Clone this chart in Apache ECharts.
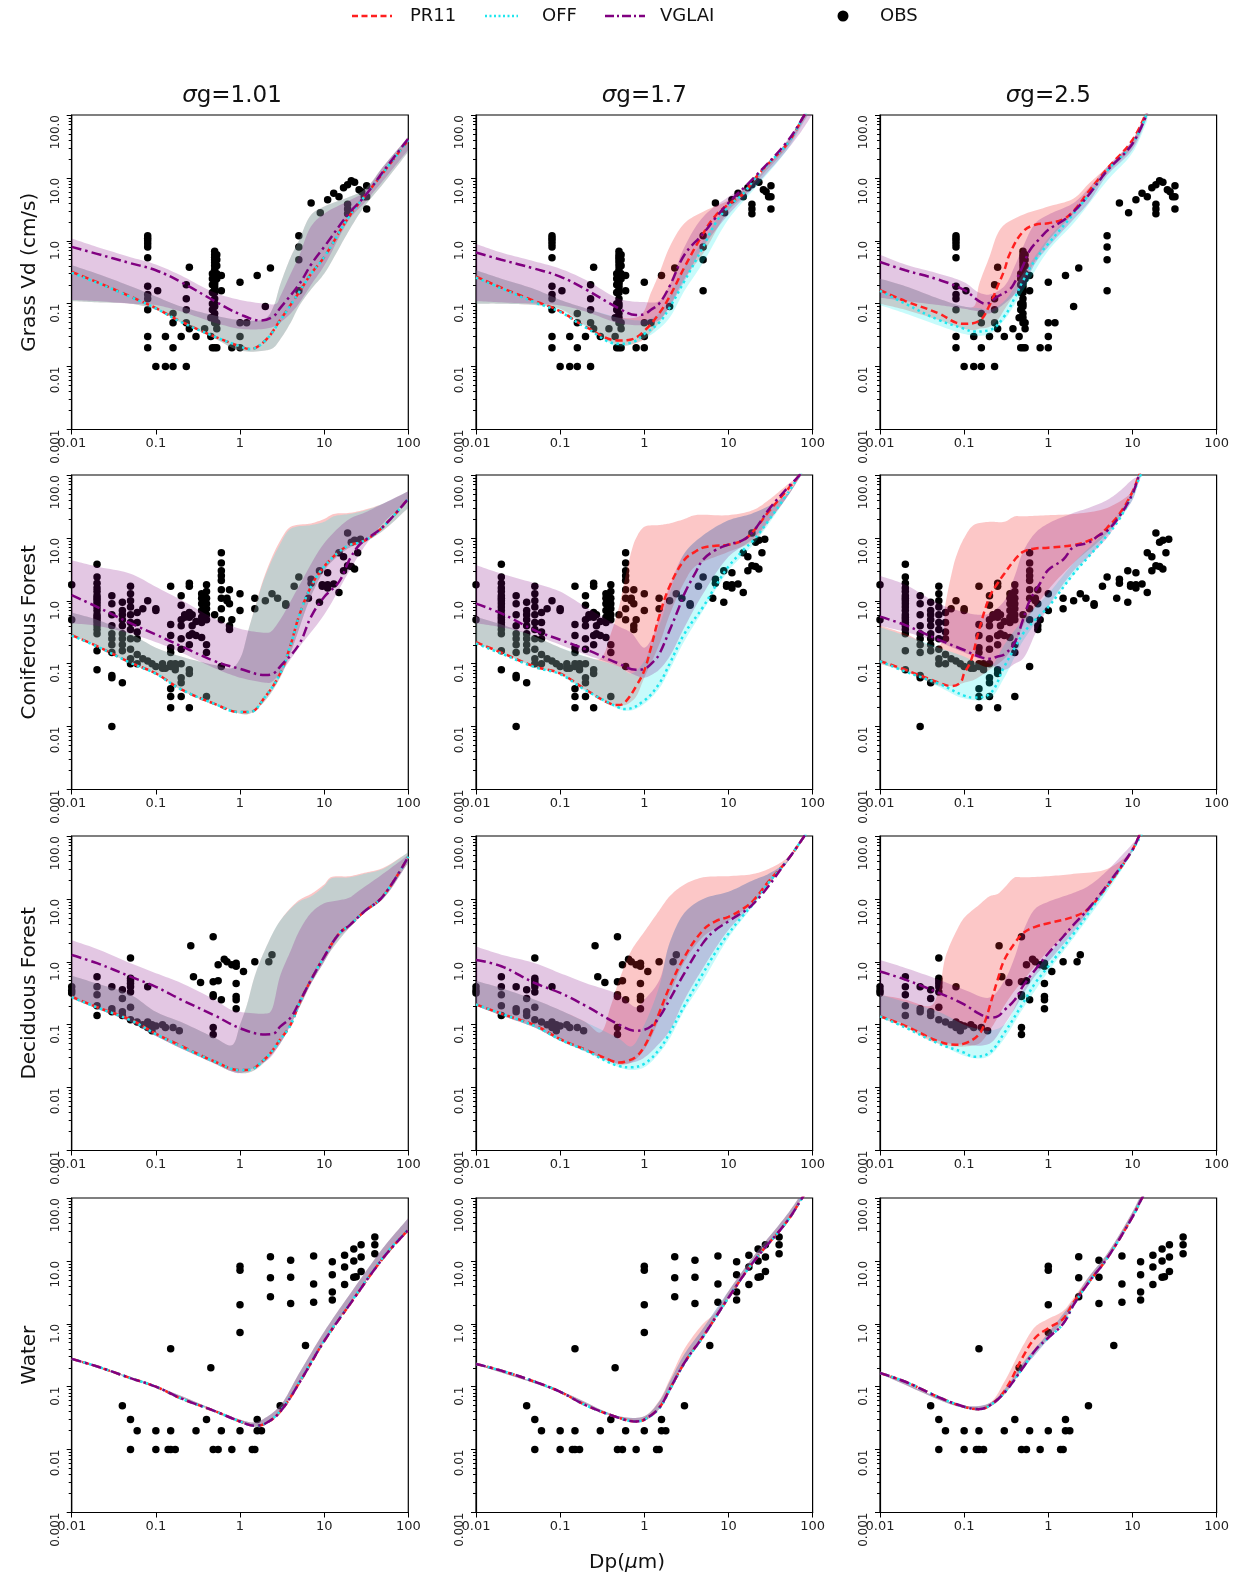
<!DOCTYPE html>
<html>
<head>
<meta charset="utf-8">
<title>Vd vs Dp</title>
<script src="https://cdn.jsdelivr.net/npm/echarts@6/dist/echarts.min.js"></script>
<style>
  html, body { margin: 0; padding: 0; background: #fff; }
  #main { width: 1239px; height: 1578px; }
</style>
</head>
<body>
<div id="main"></div>
<script>
// tick labels
var xTickLabels = ['0.01', '0.1', '1', '10', '100'];
var yTickLabels = ['0.001', '0.01', '0.1', '1.0', '10.0', '100.0'];
var colTitles = ['1.01', '1.7', '2.5'];
var rowNames = ['Grass Vd (cm/s)', 'Coniferous Forest', 'Deciduous Forest', 'Water'];

// ---- Grass, sigma g = 1.01 ----
var g1_pr = [[0.01,0.32],[0.02,0.22],[0.05,0.13],[0.1,0.085],[0.2,0.052],[0.5,0.03],[1,0.021],[1.3,0.019],[2,0.026],[3,0.055],[5,0.15],[7,0.3],[10,0.55],[20,2.5],[30,5],[50,12],[100,40]];
var g1_off = [[0.01,0.31],[0.02,0.215],[0.05,0.128],[0.1,0.084],[0.2,0.051],[0.5,0.03],[1,0.021],[1.3,0.019],[2,0.026],[3,0.054],[5,0.15],[7,0.3],[10,0.55],[20,2.5],[30,5],[50,12],[100,40]];
var g1_vg = [[0.01,0.8],[0.02,0.62],[0.05,0.44],[0.1,0.34],[0.2,0.22],[0.5,0.11],[1,0.068],[1.8,0.054],[2.5,0.063],[3,0.085],[5,0.2],[7,0.42],[10,0.8],[20,2.8],[30,5],[50,12.5],[100,42]];
var g1_prBand = [[0.01,0.11,0.41],[0.02,0.105,0.3],[0.05,0.1,0.19],[0.1,0.08,0.13],[0.2,0.05,0.09],[0.5,0.028,0.065],[1,0.018,0.055],[2,0.018,0.058],[2.5,0.02,0.09],[3,0.027,0.2],[4,0.05,0.55],[5,0.09,1.0],[7,0.17,2.6],[10,0.3,3.5],[20,1.5,5],[30,3.5,6.5],[50,8,15],[100,26,45]];
var g1_offBand = [[0.01,0.11,0.41],[0.02,0.105,0.3],[0.05,0.1,0.19],[0.1,0.08,0.13],[0.2,0.05,0.09],[0.5,0.028,0.065],[1,0.018,0.055],[2,0.018,0.058],[2.5,0.02,0.09],[3,0.027,0.2],[4,0.05,0.55],[5,0.09,1.0],[7,0.17,2.6],[10,0.3,3.5],[20,1.5,5],[30,3.5,6.5],[50,8,15],[100,26,45]];
var g1_vgBand = [[0.01,0.115,1.09],[0.02,0.11,0.8],[0.05,0.1,0.55],[0.1,0.095,0.42],[0.2,0.075,0.28],[0.5,0.05,0.15],[1,0.04,0.115],[2,0.04,0.1],[2.7,0.045,0.1],[3,0.05,0.13],[4,0.07,0.3],[5,0.1,0.56],[7,0.2,1.7],[10,0.4,2.7],[20,2.2,4.4],[30,4,6],[50,9,15],[100,28,45]];

// ---- Grass, sigma g = 1.7 ----
var g2_pr = [[0.01,0.27],[0.02,0.18],[0.05,0.11],[0.1,0.076],[0.2,0.043],[0.5,0.026],[0.7,0.027],[1,0.037],[1.5,0.07],[2,0.13],[3,0.38],[5,1.3],[7,2.5],[10,3.8],[15,5.6],[20,9.3],[30,17],[50,35],[80,100],[120,250]];
var g2_off = [[0.01,0.26],[0.02,0.175],[0.05,0.105],[0.1,0.074],[0.2,0.042],[0.5,0.023],[0.7,0.024],[1,0.033],[1.5,0.05],[2,0.087],[3,0.23],[5,0.8],[7,1.9],[10,3.5],[15,5.6],[20,9.3],[30,17],[50,35],[80,100],[120,250]];
var g2_vg = [[0.01,0.65],[0.02,0.5],[0.05,0.36],[0.1,0.27],[0.2,0.17],[0.5,0.084],[0.8,0.066],[1,0.068],[1.2,0.08],[1.5,0.1],[2,0.19],[3,0.6],[5,1.3],[7,2.3],[10,4],[20,10],[50,38],[80,100],[120,250]];
var g2_prBand = [[0.01,0.1,0.34],[0.02,0.1,0.25],[0.05,0.095,0.17],[0.1,0.083,0.115],[0.2,0.045,0.085],[0.5,0.022,0.06],[0.9,0.025,0.065],[1.2,0.035,0.15],[1.5,0.05,0.3],[2,0.09,0.8],[3,0.25,1.9],[5,0.63,2.9],[10,3,4.4],[15,5,6.4],[20,8,9],[50,31,38],[80,83,100],[120,200,250]];
var g2_offBand = [[0.01,0.1,0.34],[0.02,0.1,0.25],[0.05,0.095,0.17],[0.1,0.08,0.115],[0.2,0.043,0.085],[0.5,0.021,0.06],[1,0.028,0.055],[1.5,0.04,0.07],[2,0.06,0.13],[3,0.16,0.38],[5,0.45,1.0],[10,2.2,4],[20,6.5,9],[50,28,38],[80,80,100],[120,200,250]];
var g2_vgBand = [[0.01,0.11,0.89],[0.02,0.105,0.65],[0.05,0.1,0.47],[0.1,0.094,0.36],[0.2,0.075,0.24],[0.5,0.049,0.12],[1,0.046,0.106],[1.5,0.055,0.11],[2,0.09,0.2],[3,0.23,0.8],[5,0.8,2.4],[10,2.6,5],[20,7,9],[50,28,40],[80,65,100],[120,160,250]];

// ---- Grass, sigma g = 2.5 ----
var g3_pr = [[0.01,0.165],[0.02,0.11],[0.05,0.07],[0.08,0.05],[0.1,0.048],[0.15,0.053],[0.2,0.094],[0.25,0.19],[0.3,0.34],[0.35,0.63],[0.5,1.4],[0.7,1.8],[1,1.9],[1.5,2.2],[2,3],[3,6],[5,14],[10,40],[15,120]];
var g3_off = [[0.01,0.16],[0.02,0.1],[0.05,0.055],[0.1,0.04],[0.13,0.036],[0.2,0.038],[0.3,0.063],[0.4,0.125],[0.5,0.23],[0.7,0.5],[1,0.9],[2,2.7],[3,5.3],[5,13],[10,35],[15,110]];
var g3_vg = [[0.01,0.46],[0.02,0.34],[0.05,0.24],[0.1,0.165],[0.15,0.11],[0.18,0.1],[0.25,0.13],[0.35,0.17],[0.4,0.22],[0.5,0.4],[0.6,0.7],[0.8,1.1],[1,1.5],[1.5,2.1],[2,2.9],[3,5.3],[5,13],[10,35],[15,110]];
var g3_prBand = [[0.01,0.1,0.25],[0.02,0.08,0.19],[0.05,0.055,0.12],[0.1,0.04,0.09],[0.13,0.038,0.09],[0.15,0.04,0.2],[0.2,0.043,0.56],[0.25,0.055,1.3],[0.3,0.08,1.8],[0.5,0.23,2.6],[1,1.0,3.5],[2,2.7,4.7],[3,5,8],[5,12,15],[10,31,40],[15,100,130]];
var g3_offBand = [[0.01,0.095,0.25],[0.02,0.07,0.19],[0.05,0.045,0.12],[0.1,0.033,0.09],[0.15,0.031,0.085],[0.2,0.033,0.08],[0.3,0.055,0.11],[0.5,0.16,0.3],[1,0.7,1.1],[2,1.9,3],[5,9,13],[10,25,38],[15,80,120]];
var g3_vgBand = [[0.01,0.125,0.6],[0.02,0.11,0.42],[0.05,0.095,0.3],[0.1,0.083,0.22],[0.15,0.075,0.15],[0.2,0.07,0.14],[0.3,0.1,0.19],[0.4,0.14,0.4],[0.5,0.18,0.8],[0.7,0.44,1.9],[1,0.8,2.6],[2,2.2,4],[3,4,6.8],[5,11,15],[10,28,40],[15,90,130]];

// ---- Coniferous, sigma g = 1.01 ----
var c1_pr = [[0.01,0.285],[0.02,0.19],[0.05,0.104],[0.1,0.07],[0.2,0.039],[0.5,0.023],[1,0.017],[1.3,0.017],[2,0.03],[3,0.07],[4,0.2],[5,0.56],[7,1.7],[10,3.5],[15,6],[20,7.7],[30,9],[50,15],[100,42]];
var c1_off = [[0.01,0.28],[0.02,0.188],[0.05,0.103],[0.1,0.069],[0.2,0.039],[0.5,0.023],[1,0.017],[1.3,0.017],[2,0.03],[3,0.07],[4,0.2],[5,0.56],[7,1.7],[10,3.5],[15,6],[20,7.7],[30,9],[50,15],[100,42]];
var c1_vg = [[0.01,1.23],[0.02,0.8],[0.05,0.44],[0.1,0.29],[0.2,0.19],[0.5,0.11],[1,0.083],[2,0.066],[2.5,0.07],[3,0.09],[5,0.2],[7,0.56],[10,1.15],[15,2],[20,4.5],[25,7.2],[30,9],[50,15],[100,42]];
var c1_prBand = [[0.01,0.28,0.65],[0.02,0.19,0.5],[0.05,0.1,0.3],[0.1,0.068,0.18],[0.2,0.038,0.13],[0.5,0.022,0.095],[0.8,0.018,0.085],[1,0.016,0.12],[1.3,0.016,0.4],[2,0.026,2.7],[3,0.06,9],[4,0.15,15],[7,1.2,17],[10,3,20],[13,4.5,24],[20,7,25],[30,8.5,28],[50,13,35],[100,30,55]];
var c1_offBand = [[0.01,0.28,0.65],[0.02,0.19,0.5],[0.05,0.1,0.3],[0.1,0.068,0.18],[0.2,0.038,0.13],[0.5,0.022,0.095],[0.8,0.018,0.085],[1,0.016,0.12],[1.3,0.016,0.4],[2,0.026,2.5],[3,0.06,8],[4,0.15,14],[7,1.2,16],[10,3,18],[13,4.5,22],[20,7,24],[30,8.5,27],[50,13,35],[100,30,55]];
var c1_vgBand = [[0.01,0.44,4.4],[0.02,0.4,3.5],[0.05,0.3,2.7],[0.1,0.22,1.67],[0.2,0.15,1.03],[0.5,0.085,0.52],[1,0.06,0.36],[2,0.05,0.31],[2.3,0.05,0.32],[3,0.07,0.5],[5,0.18,1.7],[10,0.6,8.2],[20,3,20],[30,7.2,25],[50,17,35],[100,40,55]];

// ---- Coniferous, sigma g = 1.7 ----
var c2_pr = [[0.01,0.22],[0.02,0.15],[0.05,0.09],[0.1,0.07],[0.2,0.039],[0.4,0.023],[0.5,0.022],[0.6,0.025],[0.8,0.044],[1,0.078],[1.2,0.18],[1.5,0.56],[2,1.7],[3,4.5],[4,6],[5,7],[7,7.5],[10,7.8],[15,9.2],[20,13],[30,26],[50,58],[70,100],[100,200]];
var c2_off = [[0.01,0.21],[0.02,0.145],[0.05,0.088],[0.1,0.068],[0.2,0.038],[0.5,0.02],[0.6,0.019],[1,0.026],[1.5,0.048],[2,0.1],[3,0.3],[5,0.8],[7,1.7],[10,3.5],[15,6.4],[20,9.3],[30,19],[50,50],[70,100],[100,200]];
var c2_vg = [[0.01,0.9],[0.02,0.63],[0.05,0.34],[0.1,0.24],[0.2,0.17],[0.5,0.1],[0.8,0.08],[1,0.083],[1.3,0.11],[1.5,0.14],[2,0.34],[2.5,0.7],[3,1.3],[4,2.7],[5,4.5],[7,6.4],[10,7.8],[15,9.3],[20,13],[30,28],[50,62],[70,100],[100,200]];
var c2_prBand = [[0.01,0.21,0.56],[0.02,0.15,0.42],[0.05,0.09,0.27],[0.1,0.068,0.18],[0.2,0.038,0.13],[0.3,0.028,0.12],[0.4,0.023,0.3],[0.5,0.022,0.8],[0.6,0.022,2.5],[0.7,0.025,6],[0.8,0.03,10],[1,0.06,15],[1.5,0.2,16],[2,0.6,17],[3,2,20],[4,3.5,23],[10,6,23],[20,9,28],[30,18,40],[50,45,70],[70,90,100],[100,180,200]];
var c2_offBand = [[0.01,0.21,0.56],[0.02,0.145,0.42],[0.05,0.088,0.27],[0.1,0.066,0.18],[0.2,0.036,0.13],[0.5,0.019,0.09],[0.7,0.018,0.07],[1,0.023,0.11],[1.5,0.04,0.4],[2,0.08,1.3],[3,0.23,5.7],[5,0.7,11],[10,3,19],[20,8,25],[50,45,50],[70,90,100],[100,180,200]];
var c2_vgBand = [[0.01,0.44,3.7],[0.02,0.38,2.7],[0.05,0.28,1.9],[0.1,0.2,1.4],[0.2,0.14,0.8],[0.5,0.09,0.39],[0.7,0.07,0.31],[1,0.06,0.18],[1.3,0.07,0.3],[1.5,0.08,0.56],[2,0.13,1.7],[3,0.38,5.7],[5,1.3,11],[10,5,19],[20,10,25],[50,45,50],[70,90,100],[100,180,200]];

// ---- Coniferous, sigma g = 2.5 ----
var c3_pr = [[0.01,0.11],[0.02,0.08],[0.05,0.05],[0.07,0.044],[0.09,0.05],[0.1,0.07],[0.12,0.11],[0.15,0.34],[0.2,1.15],[0.25,1.9],[0.3,2.7],[0.4,4.5],[0.5,6],[0.7,6.8],[1,7],[2,7.7],[3,9],[4,11],[5,14.5],[7,24],[10,54],[12,100],[15,200]];
var c3_off = [[0.01,0.11],[0.02,0.075],[0.05,0.048],[0.1,0.031],[0.13,0.029],[0.2,0.033],[0.3,0.09],[0.4,0.18],[0.5,0.3],[0.7,0.5],[1,0.8],[2,2.7],[3,5],[5,11],[7,20],[10,50],[12.5,100],[15,170]];
var c3_vg = [[0.01,0.56],[0.02,0.41],[0.05,0.24],[0.1,0.165],[0.15,0.13],[0.2,0.12],[0.25,0.13],[0.3,0.14],[0.4,0.22],[0.5,0.5],[0.6,1.0],[0.8,1.9],[1,3.1],[1.5,4.5],[2,7.2],[3,8.4],[4,11],[5,13],[7,22],[10,50],[12,100],[15,200]];
var c3_prBand = [[0.01,0.1,0.4],[0.02,0.075,0.3],[0.05,0.045,0.19],[0.06,0.045,0.9],[0.07,0.044,2.5],[0.08,0.045,5],[0.1,0.05,10],[0.13,0.055,16],[0.2,0.08,18],[0.3,0.12,18],[0.4,0.2,22],[0.5,0.4,22],[1,1.5,23],[2,4,24],[5,12,30],[10,48,55],[12,90,100],[15,180,200]];
var c3_offBand = [[0.01,0.1,0.38],[0.02,0.075,0.28],[0.05,0.043,0.18],[0.1,0.028,0.13],[0.2,0.028,0.09],[0.3,0.06,0.2],[0.5,0.23,0.5],[1,0.8,1.3],[2,2.6,4],[5,11,14],[10,40,55],[12,80,100],[15,160,200]];
var c3_vgBand = [[0.01,0.4,2.5],[0.02,0.32,1.8],[0.05,0.22,0.9],[0.1,0.15,0.66],[0.15,0.12,0.6],[0.2,0.1,0.63],[0.3,0.08,1.0],[0.4,0.1,2.5],[0.5,0.12,6],[0.7,0.3,12],[1,0.8,17],[2,3,25],[3,5,30],[5,10,40],[7,20,55],[10,40,85],[12,80,100],[15,160,200]];

// ---- Deciduous, sigma g = 1.01 ----
var d1_pr = [[0.01,0.28],[0.02,0.19],[0.05,0.12],[0.1,0.072],[0.2,0.046],[0.5,0.026],[1,0.019],[1.2,0.019],[2,0.029],[3,0.058],[4,0.1],[5,0.21],[7,0.52],[10,1.2],[15,2.8],[20,3.8],[30,6.3],[50,11],[100,47]];
var d1_off = [[0.01,0.275],[0.02,0.188],[0.05,0.118],[0.1,0.071],[0.2,0.045],[0.5,0.026],[1,0.019],[1.2,0.019],[2,0.029],[3,0.058],[4,0.1],[5,0.21],[7,0.52],[10,1.2],[15,2.8],[20,3.8],[30,6.3],[50,11],[100,47]];
var d1_vg = [[0.01,1.28],[0.02,0.95],[0.05,0.58],[0.1,0.4],[0.2,0.25],[0.5,0.14],[1,0.088],[2,0.07],[2.5,0.072],[3,0.093],[4,0.13],[5,0.22],[7,0.52],[10,1.2],[15,2.8],[20,3.8],[30,6.3],[50,11],[100,47]];
var d1_prBand = [[0.01,0.26,0.6],[0.02,0.18,0.45],[0.05,0.11,0.3],[0.1,0.066,0.16],[0.2,0.042,0.11],[0.5,0.024,0.062],[0.8,0.018,0.047],[1,0.017,0.1],[1.2,0.017,0.2],[1.5,0.019,0.6],[2,0.026,1.6],[3,0.05,4.5],[5,0.18,9.5],[7,0.45,12],[10,1,17],[12,1.5,22],[20,3.5,23],[30,6,26],[50,10,31],[100,38,55]];
var d1_offBand = [[0.01,0.26,0.6],[0.02,0.18,0.45],[0.05,0.11,0.3],[0.1,0.066,0.16],[0.2,0.042,0.11],[0.5,0.024,0.062],[0.8,0.018,0.047],[1,0.017,0.1],[1.2,0.017,0.2],[1.5,0.019,0.6],[2,0.026,1.6],[3,0.05,4.5],[5,0.18,9],[7,0.45,11],[10,1,16],[12,1.5,21],[20,3.5,22],[30,6,25],[50,10,30],[100,38,55]];
var d1_vgBand = [[0.01,0.26,2.2],[0.02,0.18,1.6],[0.05,0.11,0.95],[0.1,0.066,0.66],[0.2,0.042,0.46],[0.5,0.024,0.25],[0.8,0.018,0.17],[1,0.017,0.16],[2,0.026,0.15],[2.3,0.03,0.16],[3,0.05,0.6],[4,0.1,1.5],[5,0.18,3],[7,0.45,6],[10,1,8.5],[15,2.5,9.5],[20,3.5,10.5],[25,5,13],[50,10,25],[100,38,50]];

// ---- Deciduous, sigma g = 1.7 ----
var d2_pr = [[0.01,0.21],[0.02,0.15],[0.05,0.098],[0.1,0.059],[0.2,0.04],[0.4,0.027],[0.5,0.025],[0.6,0.026],[0.8,0.031],[1,0.045],[1.2,0.074],[1.5,0.153],[2,0.4],[3,1.2],[5,3.2],[7,4.4],[10,5.2],[15,7],[20,9.6],[30,19],[50,41],[80,100],[120,220]];
var d2_off = [[0.01,0.21],[0.02,0.15],[0.05,0.095],[0.1,0.058],[0.2,0.039],[0.5,0.022],[0.7,0.021],[1,0.024],[1.5,0.04],[2,0.074],[3,0.2],[5,0.66],[7,1.4],[10,2.8],[15,5.5],[20,8.5],[30,18],[50,41],[80,100],[120,220]];
var d2_vg = [[0.01,1.07],[0.02,0.85],[0.05,0.46],[0.1,0.32],[0.2,0.2],[0.5,0.1],[0.8,0.08],[1,0.083],[1.2,0.094],[1.5,0.13],[2,0.25],[3,0.66],[5,2],[7,3.2],[10,4.4],[20,8.5],[50,41],[80,100],[120,220]];
var d2_prBand = [[0.01,0.2,0.5],[0.02,0.14,0.38],[0.05,0.09,0.25],[0.1,0.056,0.17],[0.2,0.038,0.11],[0.3,0.03,0.075],[0.4,0.026,0.2],[0.5,0.023,0.5],[0.7,0.025,1.5],[1,0.04,3],[1.5,0.12,6.5],[2,0.3,11],[3,1,17],[5,2.5,22],[10,4.5,23],[20,9,25],[30,17,30],[50,38,45],[80,95,100],[120,200,220]];
var d2_offBand = [[0.01,0.2,0.5],[0.02,0.14,0.38],[0.05,0.09,0.25],[0.1,0.055,0.17],[0.2,0.037,0.11],[0.5,0.021,0.06],[0.7,0.019,0.045],[1,0.021,0.1],[1.5,0.035,0.4],[2,0.06,2],[3,0.17,6],[5,0.5,10],[10,2.4,13],[20,8,20],[30,17,25],[50,38,40],[80,95,100],[120,200,220]];
var d2_vgBand = [[0.01,0.2,1.75],[0.02,0.14,1.3],[0.05,0.09,0.95],[0.1,0.056,0.66],[0.2,0.038,0.46],[0.5,0.024,0.3],[0.8,0.026,0.19],[1,0.03,0.25],[1.5,0.05,0.5],[2,0.08,2],[3,0.25,6],[5,0.8,10],[10,3.2,13],[20,8.5,20],[30,17,25],[50,38,40],[80,95,100],[120,200,220]];

// ---- Deciduous, sigma g = 2.5 ----
var d3_pr = [[0.01,0.136],[0.02,0.096],[0.05,0.054],[0.08,0.048],[0.1,0.05],[0.15,0.07],[0.18,0.12],[0.2,0.19],[0.25,0.52],[0.3,1.07],[0.4,1.98],[0.5,2.85],[0.7,3.6],[1,4.1],[2,5.2],[3,7],[5,15.8],[7,29],[10,60],[12,100],[15,180]];
var d3_off = [[0.01,0.136],[0.02,0.09],[0.05,0.05],[0.1,0.036],[0.13,0.031],[0.2,0.036],[0.3,0.074],[0.5,0.22],[0.7,0.46],[1,0.84],[2,2.8],[3,5.9],[5,15.8],[7,29],[10,60],[12.5,100],[15,160]];
var d3_vg = [[0.01,0.7],[0.02,0.52],[0.05,0.32],[0.1,0.21],[0.15,0.15],[0.2,0.13],[0.25,0.136],[0.3,0.17],[0.4,0.25],[0.5,0.41],[0.7,0.75],[1,1.37],[1.5,2.5],[2,3.9],[3,7],[5,16.6],[10,60],[12,100],[15,180]];
var d3_prBand = [[0.01,0.13,0.3],[0.02,0.09,0.25],[0.04,0.055,0.2],[0.05,0.05,0.35],[0.06,0.047,1.2],[0.08,0.045,3],[0.1,0.045,5],[0.15,0.05,8],[0.2,0.08,11],[0.25,0.13,12],[0.3,0.2,15],[0.4,0.35,22],[0.5,0.5,22],[1,1.5,23],[2,3.5,25],[5,15,30],[10,58,60],[12,95,100],[15,170,180]];
var d3_offBand = [[0.01,0.13,0.3],[0.02,0.09,0.23],[0.05,0.05,0.16],[0.1,0.032,0.1],[0.15,0.029,0.085],[0.2,0.032,0.08],[0.3,0.06,0.1],[0.5,0.18,0.35],[1,0.7,1.3],[2,2.4,3.5],[5,13,17],[10,55,65],[12,90,100],[15,150,180]];
var d3_vgBand = [[0.01,0.14,1.07],[0.02,0.1,0.8],[0.05,0.055,0.52],[0.1,0.048,0.36],[0.2,0.05,0.27],[0.3,0.1,0.5],[0.4,0.18,1.2],[0.5,0.3,3],[0.7,0.6,7],[1,1,9],[2,3,12.5],[3,6,16],[5,15,28],[7,28,45],[10,58,75],[12,95,100],[15,170,180]];

// ---- Water, sigma g = 1.01 ----
var w1_pr = [[0.01,0.277],[0.02,0.21],[0.05,0.137],[0.1,0.1],[0.2,0.065],[0.5,0.041],[1,0.028],[1.5,0.024],[2,0.026],[3,0.04],[5,0.112],[10,0.53],[20,2.0],[50,11],[100,31]];
var w1_off = [[0.01,0.277],[0.02,0.21],[0.05,0.137],[0.1,0.1],[0.2,0.065],[0.5,0.041],[1,0.028],[1.5,0.024],[2,0.026],[3,0.041],[5,0.115],[10,0.54],[20,2.05],[50,11.3],[100,32]];
var w1_vg = [[0.01,0.277],[0.02,0.21],[0.05,0.137],[0.1,0.1],[0.2,0.065],[0.5,0.041],[1,0.028],[1.5,0.024],[2,0.026],[3,0.04],[5,0.112],[10,0.53],[20,2.0],[50,11],[100,31]];
var w1_prBand = [[0.01,0.27,0.285],[0.1,0.098,0.103],[1,0.027,0.03],[1.5,0.023,0.027],[2,0.025,0.032],[3,0.039,0.05],[5,0.11,0.16],[10,0.52,0.75],[20,2,2.9],[50,11,16],[100,31,48]];
var w1_offBand = [[0.01,0.27,0.285],[0.1,0.098,0.103],[1,0.027,0.03],[1.5,0.023,0.027],[2,0.025,0.032],[3,0.039,0.05],[5,0.11,0.16],[10,0.52,0.75],[20,2,2.9],[50,11,16],[100,31,48]];
var w1_vgBand = [[0.01,0.27,0.285],[0.1,0.098,0.103],[1,0.027,0.03],[1.5,0.023,0.027],[2,0.025,0.032],[3,0.039,0.05],[5,0.11,0.16],[10,0.52,0.75],[20,2,2.9],[50,11,16],[100,31,48]];

// ---- Water, sigma g = 1.7 ----
var w2_pr = [[0.01,0.23],[0.02,0.18],[0.05,0.12],[0.1,0.083],[0.2,0.051],[0.5,0.032],[0.8,0.028],[1,0.03],[1.5,0.046],[2,0.09],[3,0.24],[5,0.63],[10,2.6],[20,9.8],[50,43],[75,100],[100,180]];
var w2_off = [[0.01,0.23],[0.02,0.18],[0.05,0.12],[0.1,0.083],[0.2,0.051],[0.5,0.032],[0.8,0.028],[1,0.03],[1.5,0.045],[2,0.088],[3,0.235],[5,0.62],[10,2.6],[20,9.8],[50,43],[75,100],[100,180]];
var w2_vg = [[0.01,0.23],[0.02,0.18],[0.05,0.12],[0.1,0.083],[0.2,0.051],[0.5,0.032],[0.8,0.028],[1,0.03],[1.5,0.046],[2,0.09],[3,0.24],[5,0.63],[10,2.6],[20,9.8],[50,43],[75,100],[100,180]];
var w2_prBand = [[0.01,0.225,0.235],[0.1,0.081,0.086],[0.5,0.031,0.034],[1,0.029,0.034],[1.5,0.044,0.06],[2,0.087,0.13],[3,0.23,0.4],[5,0.6,1.0],[7,1.3,1.5],[10,2.5,3.3],[20,9.5,12],[50,42,55],[75,98,120],[100,170,200]];
var w2_offBand = [[0.01,0.225,0.235],[0.1,0.081,0.086],[0.5,0.031,0.034],[1,0.029,0.034],[1.5,0.044,0.058],[2,0.087,0.12],[3,0.23,0.33],[5,0.6,0.85],[10,2.5,3.3],[20,9.5,12],[50,42,55],[75,98,120],[100,170,200]];
var w2_vgBand = [[0.01,0.225,0.235],[0.1,0.081,0.086],[0.5,0.031,0.034],[1,0.029,0.034],[1.5,0.044,0.058],[2,0.087,0.12],[3,0.23,0.33],[5,0.6,0.85],[10,2.5,3.3],[20,9.5,12],[50,42,55],[75,98,120],[100,170,200]];

// ---- Water, sigma g = 2.5 ----
var w3_pr = [[0.01,0.165],[0.02,0.12],[0.05,0.068],[0.1,0.048],[0.15,0.044],[0.2,0.05],[0.3,0.085],[0.5,0.3],[0.7,0.6],[1,0.85],[1.5,1.2],[2,2.2],[3,4.5],[5,11],[10,50],[13,100],[16,160]];
var w3_off = [[0.01,0.165],[0.02,0.12],[0.05,0.068],[0.1,0.048],[0.15,0.044],[0.2,0.05],[0.3,0.08],[0.5,0.2],[0.7,0.38],[1,0.6],[1.5,1.0],[2,2],[3,4.5],[5,11],[10,50],[13,100],[16,160]];
var w3_vg = [[0.01,0.165],[0.02,0.12],[0.05,0.068],[0.1,0.048],[0.15,0.044],[0.2,0.05],[0.3,0.08],[0.5,0.2],[0.7,0.38],[1,0.6],[1.5,1.0],[2,2],[3,4.5],[5,11],[10,50],[13,100],[16,160]];
var w3_prBand = [[0.01,0.16,0.17],[0.1,0.046,0.05],[0.2,0.048,0.055],[0.3,0.075,0.12],[0.5,0.2,0.45],[0.7,0.35,0.9],[1,0.6,1.2],[1.5,1.0,1.6],[2,2,2.6],[3,4.3,5.5],[5,10.5,13],[10,48,60],[13,95,120],[16,150,190]];
var w3_offBand = [[0.01,0.16,0.17],[0.1,0.046,0.05],[0.2,0.048,0.055],[0.3,0.075,0.09],[0.5,0.19,0.24],[1,0.57,0.72],[2,1.9,2.4],[3,4.3,5.5],[5,10.5,13],[10,48,60],[13,95,120],[16,150,190]];
var w3_vgBand = [[0.01,0.16,0.17],[0.1,0.046,0.05],[0.2,0.048,0.055],[0.3,0.075,0.09],[0.5,0.19,0.24],[1,0.57,0.72],[2,1.9,2.4],[3,4.3,5.5],[5,10.5,13],[10,48,60],[13,95,120],[16,150,190]];

// ---- observations: [Dp, [Vd values at that Dp]] ----
var grassObs = [
  [0.08,[1.2,1.1,1.0,0.9,0.8,0.54,0.19,0.14,0.12,0.08,0.03,0.02]],
  [0.1,[0.01]],[0.105,[0.16]],[0.13,[0.01,0.03]],[0.16,[0.07,0.05,0.02,0.01]],
  [0.2,[0.03]],[0.23,[0.2,0.12,0.08,0.05,0.01]],[0.25,[0.38,0.04]],[0.3,[0.03]],
  [0.38,[0.04]],[0.45,[0.06,0.03]],[0.47,[0.3,0.25,0.2,0.15,0.1,0.08,0.02]],
  [0.5,[0.68,0.6,0.55,0.5,0.45,0.4,0.35,0.3,0.27,0.25,0.22,0.2,0.18,0.15,0.12,0.1,0.09,0.07,0.06,0.05,0.02]],
  [0.53,[0.6,0.5,0.4,0.3,0.25,0.05,0.04,0.02]],[0.6,[0.28,0.16]],[0.8,[0.02]],
  [1.0,[0.22,0.05,0.03,0.02]],[1.2,[0.05]],[1.6,[0.28]],[2,[0.09]],[2.3,[0.37]],
  [5,[1.2,0.8,0.5,0.16]],[7,[4]],[9,[2.8]],[11,[4.5]],[13,[5.7]],[15,[5]],[17,[7]],
  [19,[7.8,3.8,3.2,2.7]],[21,[9]],[23,[8.5]],[26,[6.5]],[28,[6]],[30,[5]],[32,[7.5,5,3.2]]
];
var coniferObs = [
  [0.01,[1.8,0.5]],
  [0.02,[3.8,2.4,1.9,1.6,1.4,1.2,1.1,1.0,0.9,0.8,0.7,0.6,0.55,0.5,0.45,0.4,0.35,0.3,0.16,0.08]],
  [0.03,[1.2,0.9,0.6,0.4,0.3,0.25,0.2,0.15,0.065,0.06,0.01]],
  [0.04,[0.95,0.7,0.6,0.5,0.4,0.3,0.25,0.2,0.16,0.05]],
  [0.05,[1.7,1.3,1.0,0.8,0.6,0.45,0.35,0.25,0.17,0.12,0.1]],
  [0.06,[0.65,0.45,0.32,0.25,0.14,0.1]],[0.07,[0.75,0.12]],[0.08,[1.0,0.11]],[0.09,[0.1]],
  [0.1,[0.75,0.7,0.09]],[0.12,[0.1,0.085]],[0.13,[0.085]],
  [0.15,[1.7,0.42,0.28,0.18,0.15,0.1,0.09,0.04,0.03,0.02]],[0.17,[0.1,0.09,0.08]],
  [0.2,[1.2,0.85,0.5,0.4,0.25,0.17,0.1,0.06,0.05,0.03]],[0.22,[0.6,0.55]],
  [0.25,[1.9,1.7,0.65,0.55,0.28,0.2,0.08,0.07,0.02]],[0.27,[0.6,0.4,0.3]],[0.3,[0.47,0.28]],
  [0.35,[1.3,1.1,0.9,0.7,0.55,0.45,0.26]],[0.4,[1.8,1.4,1.1,0.9,0.75,0.6,0.5,0.2,0.15,0.03]],
  [0.5,[0.6]],[0.6,[5.8,4.0,3.0,2.5,2.1,1.5,1.1,0.75,0.5,0.09]],[0.7,[1.1,1.0]],
  [0.75,[1.5,0.9,0.4,0.35]],[0.8,[0.5]],[1.0,[1.3,0.7]],[1.5,[1.1,0.75]],[2.0,[1.0]],
  [2.4,[1.3]],[2.8,[1.1]],[3.5,[0.9,0.85]],[4.4,[1.7]],[5.0,[2.4]],[6.5,[1.1]],[7,[2.2,1.9]],
  [8.8,[3.0,0.95]],[9.5,[1.8,1.7]],[11,[2.8,1.8,1.6]],[13,[1.85]],[15,[5.8,1.35]],
  [17,[5.0,3.0]],[19,[12,3.6]],[21,[8.5,3.5]],[23,[9.2,3.2]],[25,[5.8]],[27,[9.5]]
];
var decidObs = [
  [0.01,[0.4,0.35,0.32]],[0.02,[0.58,0.4,0.3,0.2,0.14]],[0.03,[0.4,0.18,0.16]],
  [0.04,[0.36,0.26,0.16,0.14]],[0.05,[1.15,0.55,0.5,0.45,0.4,0.33,0.19,0.12]],
  [0.06,[0.11]],[0.07,[0.1]],[0.08,[0.4,0.11,0.1,0.09]],[0.09,[0.1,0.08]],[0.1,[0.095]],
  [0.12,[0.1]],[0.13,[0.09]],[0.16,[0.09]],[0.19,[0.08]],[0.26,[1.8]],[0.28,[0.58]],
  [0.34,[0.47]],[0.48,[2.5,0.48,0.3,0.28,0.09,0.07]],[0.55,[0.9,0.5]],[0.6,[0.25]],
  [0.65,[1.1]],[0.7,[1.0]],[0.8,[0.9]],[0.9,[0.95,0.85,0.45,0.28,0.25,0.18]],
  [1.1,[0.7]],[1.5,[1.0]],[2.2,[1.0]],[2.4,[1.3]]
];
var waterObs = [
  [0.04,[0.05]],[0.05,[0.03,0.01]],[0.06,[0.02]],[0.1,[0.02,0.01]],[0.14,[0.01]],
  [0.15,[0.4,0.02,0.01]],[0.17,[0.01]],[0.3,[0.02]],[0.4,[0.03]],[0.45,[0.2]],
  [0.48,[0.01]],[0.55,[0.01]],[0.6,[0.02]],[0.8,[0.01]],[1.0,[8.2,7.1,2.0,0.73,0.02]],
  [1.4,[0.01]],[1.5,[0.01]],[1.6,[0.03,0.02]],[1.8,[0.02]],[2.3,[11.6,5.4,2.7]],[3,[0.05]],
  [4,[10.2,5.5,2.1]],[6,[0.45]],[7.5,[12,4.3,2.2]],[12.5,[9.7,6,3.2,2.4]],
  [17.5,[12.3,8,4.2]],[22.5,[15.5,10,5.5]],[24,[5.6]],[27.5,[18,11.5,6.8]],[40,[24,18,13]]
];

var panels = [
  [g1_pr, g1_off, g1_vg, g1_prBand, g1_offBand, g1_vgBand, grassObs],
  [g2_pr, g2_off, g2_vg, g2_prBand, g2_offBand, g2_vgBand, grassObs],
  [g3_pr, g3_off, g3_vg, g3_prBand, g3_offBand, g3_vgBand, grassObs],
  [c1_pr, c1_off, c1_vg, c1_prBand, c1_offBand, c1_vgBand, coniferObs],
  [c2_pr, c2_off, c2_vg, c2_prBand, c2_offBand, c2_vgBand, coniferObs],
  [c3_pr, c3_off, c3_vg, c3_prBand, c3_offBand, c3_vgBand, coniferObs],
  [d1_pr, d1_off, d1_vg, d1_prBand, d1_offBand, d1_vgBand, decidObs],
  [d2_pr, d2_off, d2_vg, d2_prBand, d2_offBand, d2_vgBand, decidObs],
  [d3_pr, d3_off, d3_vg, d3_prBand, d3_offBand, d3_vgBand, decidObs],
  [w1_pr, w1_off, w1_vg, w1_prBand, w1_offBand, w1_vgBand, waterObs],
  [w2_pr, w2_off, w2_vg, w2_prBand, w2_offBand, w2_vgBand, waterObs],
  [w3_pr, w3_off, w3_vg, w3_prBand, w3_offBand, w3_vgBand, waterObs]
];

var FONT = 'DejaVu Sans';
var RED = '#ff1f1f', CYAN = '#1ee6ee', PURPLE = '#800080';
var lefts = [71.7, 476, 880], tops = [115, 475, 836, 1198];
var W = 336.6, H = 314.5;

var myChart = echarts.init(document.getElementById('main'));

function expOf(v) { return Math.round(Math.log(v) / Math.LN10); }

// centripetal Catmull-Rom through pixel points, so band edges are smooth curves
function smoothEdge(pts, n) {
  if (pts.length < 3) return pts;
  var out = [];
  function ext(a, b) { return [2 * a[0] - b[0], 2 * a[1] - b[1]]; }
  function knot(t, a, b) {
    var dx = b[0] - a[0], dy = b[1] - a[1];
    return t + Math.pow(Math.sqrt(dx * dx + dy * dy) + 1e-4, 0.5);
  }
  function mix(a, b, ta, tb, t) {
    var w = (t - ta) / (tb - ta);
    return [a[0] + (b[0] - a[0]) * w, a[1] + (b[1] - a[1]) * w];
  }
  for (var i = 0; i < pts.length - 1; i++) {
    var p0 = i > 0 ? pts[i - 1] : ext(pts[0], pts[1]);
    var p1 = pts[i], p2 = pts[i + 1];
    var p3 = i + 2 < pts.length ? pts[i + 2] : ext(pts[i + 1], pts[i]);
    var t0 = 0, t1 = knot(t0, p0, p1), t2 = knot(t1, p1, p2), t3 = knot(t2, p2, p3);
    for (var k = 0; k < n; k++) {
      var t = t1 + (t2 - t1) * k / n;
      var a1 = mix(p0, p1, t0, t1, t), a2 = mix(p1, p2, t1, t2, t), a3 = mix(p2, p3, t2, t3, t);
      var b1 = mix(a1, a2, t0, t2, t), b2 = mix(a2, a3, t1, t3, t);
      out.push(mix(b1, b2, t1, t2, t));
    }
  }
  out.push(pts[pts.length - 1]);
  return out;
}

function bandSeries(band, color, i) {
  return {
    type: 'custom', xAxisIndex: i, yAxisIndex: i, silent: true, z: 2,
    data: [[band[0][0], band[0][1]]],
    renderItem: function (params, api) {
      var cs = params.coordSys;
      var up = band.map(function (d) { return api.coord([d[0], d[2]]); });
      var lo = band.map(function (d) { return api.coord([d[0], d[1]]); });
      var pts = smoothEdge(up, 10).concat(smoothEdge(lo, 10).reverse());
      return {
        type: 'polygon',
        clipPath: { type: 'rect', shape: { x: cs.x, y: cs.y, width: cs.width, height: cs.height } },
        shape: { points: pts },
        style: { fill: color }
      };
    }
  };
}

function lineSeries(data, color, dash, i, z) {
  return {
    type: 'line', xAxisIndex: i, yAxisIndex: i, data: data, showSymbol: false, silent: true,
    smooth: 0.4, z: z,
    lineStyle: { color: color, width: 2.5, type: dash }
  };
}

var grids = [], xAxes = [], yAxes = [], series = [];
panels.forEach(function (p, i) {
  var r = Math.floor(i / 3), c = i % 3;
  grids.push({ left: lefts[c], top: tops[r], width: W, height: H,
    show: true, borderColor: '#000', borderWidth: 1.2, backgroundColor: 'transparent' });
  xAxes.push({
    gridIndex: i, type: 'log', logBase: 10, min: 0.01, max: 100,
    axisLine: { show: true, lineStyle: { color: '#000', width: 1.2 } },
    axisTick: { show: true, length: 5, lineStyle: { color: '#000' } },
    splitLine: { show: false },
    axisLabel: { fontFamily: FONT, fontSize: 13, color: '#222', margin: 8,
      formatter: function (v) { return xTickLabels[expOf(v) + 2]; } }
  });
  yAxes.push({
    gridIndex: i, type: 'log', logBase: 10, min: 0.001, max: 100,
    axisLine: { show: true, lineStyle: { color: '#000', width: 1.2 } },
    axisTick: { show: true, length: 5, lineStyle: { color: '#000' } },
    minorTick: { show: true, splitNumber: 9, length: 3, lineStyle: { color: '#000' } },
    splitLine: { show: false }, minorSplitLine: { show: false },
    axisLabel: { fontFamily: FONT, fontSize: 12, color: '#222', margin: 10, rotate: 90,
      align: 'right', verticalAlign: 'bottom',
      formatter: function (v) { return yTickLabels[expOf(v) + 3]; } }
  });

  var obsPts = [];
  p[6].forEach(function (col) { col[1].forEach(function (v) { obsPts.push([col[0], v]); }); });
  series.push({ type: 'scatter', xAxisIndex: i, yAxisIndex: i, data: obsPts, symbolSize: 7.5,
    silent: true, z: 1, itemStyle: { color: '#000', opacity: 1 } });

  series.push(bandSeries(p[3], 'rgba(245,40,40,0.26)', i));
  series.push(bandSeries(p[4], 'rgba(0,235,235,0.22)', i));
  series.push(bandSeries(p[5], 'rgba(128,0,128,0.22)', i));

  series.push(lineSeries(p[0], RED, [7, 4], i, 4));
  series.push(lineSeries(p[1], CYAN, [2.5, 3.5], i, 5));
  series.push(lineSeries(p[2], PURPLE, [10, 4, 2.5, 4], i, 6));
});

var graphics = [];
var LF = '18px "DejaVu Sans"';
// legend
graphics.push({ type: 'line', shape: { x1: 352, y1: 16, x2: 392, y2: 16 }, style: { stroke: RED, lineWidth: 2.5, lineDash: [6, 3.5] } });
graphics.push({ type: 'text', x: 410, y: 16, style: { text: 'PR11', font: LF, fill: '#111', textVerticalAlign: 'middle' } });
graphics.push({ type: 'line', shape: { x1: 485, y1: 16, x2: 518, y2: 16 }, style: { stroke: CYAN, lineWidth: 2.5, lineDash: [2, 2.5] } });
graphics.push({ type: 'text', x: 542, y: 16, style: { text: 'OFF', font: LF, fill: '#111', textVerticalAlign: 'middle' } });
graphics.push({ type: 'line', shape: { x1: 605, y1: 16, x2: 645, y2: 16 }, style: { stroke: PURPLE, lineWidth: 2.5, lineDash: [9, 3, 2, 3] } });
graphics.push({ type: 'text', x: 660, y: 16, style: { text: 'VGLAI', font: LF, fill: '#111', textVerticalAlign: 'middle' } });
graphics.push({ type: 'circle', shape: { cx: 843, cy: 16, r: 5.5 }, style: { fill: '#000' } });
graphics.push({ type: 'text', x: 880, y: 16, style: { text: 'OBS', font: LF, fill: '#111', textVerticalAlign: 'middle' } });

// column titles
colTitles.forEach(function (t, c) {
  graphics.push({ type: 'text', x: lefts[c] + W / 2 - (c === 0 ? 8 : 0), y: 96,
    style: { text: '{i|σ}{n|g=' + t + '}', textAlign: 'center', textVerticalAlign: 'middle',
      rich: { i: { fontFamily: FONT, fontSize: 23, fontStyle: 'italic', fill: '#111' },
              n: { fontFamily: FONT, fontSize: 23, fill: '#111' } } } });
});
// row names
rowNames.forEach(function (t, r) {
  graphics.push({ type: 'text', x: 30, y: tops[r] + H / 2, rotation: Math.PI / 2,
    style: { text: t, font: '20px "DejaVu Sans"', fill: '#111', textAlign: 'center', textVerticalAlign: 'middle' } });
});
// x axis name
graphics.push({ type: 'text', x: 627, y: 1563,
  style: { text: '{n|Dp(}{i|μ}{n|m)}', textAlign: 'center', textVerticalAlign: 'middle',
    rich: { i: { fontFamily: FONT, fontSize: 20, fontStyle: 'italic', fill: '#111' },
            n: { fontFamily: FONT, fontSize: 20, fill: '#111' } } } });

myChart.setOption({
  animation: false,
  backgroundColor: '#fff',
  grid: grids,
  xAxis: xAxes,
  yAxis: yAxes,
  series: series,
  graphic: graphics
});
</script>
</body>
</html>
